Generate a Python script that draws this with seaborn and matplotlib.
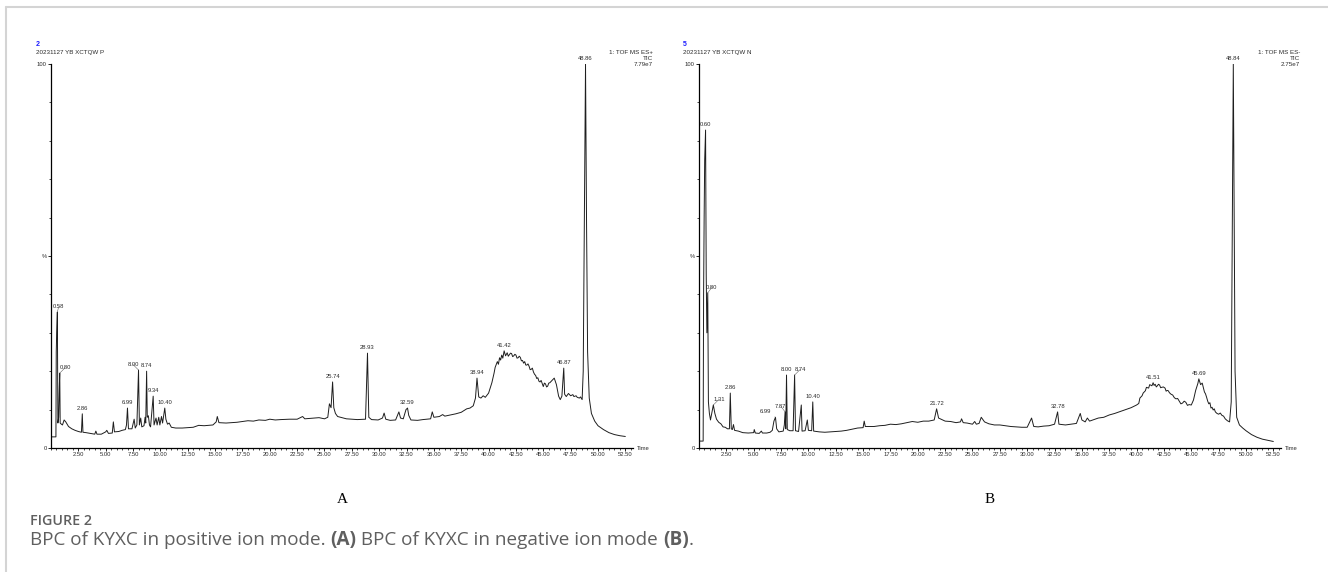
import matplotlib
matplotlib.use('Agg')
import pandas as pd
import seaborn as sns
import matplotlib.pyplot as plt
from matplotlib.ticker import MultipleLocator, FixedLocator
from matplotlib.lines import Line2D

sns.set_theme(style='white')
plt.rcParams['font.family'] = ['Liberation Sans', 'DejaVu Sans']

# Positive ion mode BPC (A), time in min, intensity in % of 7.79e7
time_pos = [0.0, 0.45, 0.48, 0.52, 0.58, 0.63, 0.70, 0.76, 0.80, 0.84, 0.95, 1.05, 1.2, 1.35, 1.6,
            1.9, 2.2, 2.5, 2.78, 2.86, 2.92, 3.2, 3.6, 4.0, 4.1, 4.2, 4.6, 5.0, 5.1, 5.25, 5.6,
            5.7, 5.8, 6.2, 6.5, 6.8, 6.9, 6.99, 7.08, 7.4, 7.6, 7.7, 7.85, 8.00, 8.08, 8.2, 8.3,
            8.5, 8.6, 8.66, 8.74, 8.8, 8.9, 9.0, 9.1, 9.34, 9.42, 9.6, 9.7, 9.85, 9.95, 10.1,
            10.2, 10.40, 10.5, 10.65, 10.8, 11.0, 11.4, 12.0, 12.5, 13.0, 13.5, 14.0, 14.8, 15.1,
            15.2, 15.35, 16.0, 17.0, 17.5, 18.0, 18.5, 19.0, 19.6, 20.0, 20.5, 21.0, 21.8, 22.5,
            23.0, 23.2, 24.0, 24.5, 25.0, 25.3, 25.45, 25.6, 25.74, 25.85, 26.0, 26.2, 27.0,
            28.0, 28.75, 28.93, 29.05, 29.3, 29.9, 30.3, 30.45, 30.6, 31.0, 31.5, 31.8, 31.95,
            32.2, 32.45, 32.59, 32.7, 32.9, 33.5, 34.0, 34.7, 34.85, 35.0, 35.5, 35.8, 36.0,
            36.5, 37.0, 37.5, 38.0, 38.3, 38.6, 38.8, 38.94, 39.1, 39.3, 39.5, 39.7, 40.0, 40.3,
            40.5, 40.6, 40.8, 40.9, 41.0, 41.1, 41.2, 41.3, 41.42, 41.55, 41.7, 41.8, 41.9, 42.0,
            42.1, 42.2, 42.3, 42.4, 42.5, 42.6, 42.7, 42.8, 42.9, 43.0, 43.1, 43.2, 43.3, 43.4,
            43.5, 43.6, 43.7, 43.8, 43.9, 44.0, 44.1, 44.2, 44.3, 44.4, 44.5, 44.6, 44.7, 44.8,
            44.9, 45.0, 45.1, 45.2, 45.3, 45.4, 45.5, 45.6, 45.8, 46.0, 46.2, 46.4, 46.55, 46.7,
            46.87, 46.95, 47.1, 47.3, 47.5, 47.7, 47.8, 48.0, 48.1, 48.3, 48.4, 48.55, 48.65,
            48.75, 48.86, 48.95, 49.05, 49.2, 49.4, 49.7, 50.0, 50.5, 51.0, 51.5, 52.0, 52.5]
int_pos = [2.9, 2.9, 25, 30, 35.4, 6.5, 8, 16, 19.5, 6.5, 6.2, 6.0, 7.3, 6.8, 5.6,
           5.0, 4.6, 4.3, 4.1, 8.9, 4.1, 4.0, 3.8, 3.6, 4.4, 3.6, 3.6, 4.2, 4.6, 3.8, 3.9,
           6.8, 4.2, 4.3, 4.6, 4.8, 6.0, 10.4, 5.0, 5.0, 7.5, 5.2, 6.0, 20.3, 6.0, 7.8, 5.5,
           5.8, 8.0, 6.5, 20.0, 8.0, 8.4, 6.0, 5.5, 13.5, 6.0, 7.8, 6.0, 8.0, 6.0, 8.2,
           6.5, 10.4, 7.5, 6.2, 6.5, 5.4, 5.2, 5.2, 5.3, 5.4, 5.9, 5.8, 6.0, 6.8,
           8.2, 6.6, 6.5, 6.7, 6.9, 7.1, 7.0, 7.3, 7.2, 7.5, 7.3, 7.4, 7.5, 7.5,
           8.2, 7.6, 7.8, 7.9, 7.6, 8.0, 11.5, 10.5, 17.2, 10.5, 9.0, 8.2, 7.6,
           7.4, 7.5, 24.7, 8.0, 7.4, 7.3, 7.8, 9.1, 7.5, 7.2, 7.3, 9.4, 7.8,
           7.6, 10.0, 10.4, 8.5, 7.3, 7.2, 7.4, 7.6, 9.4, 8.0, 8.2, 8.7, 8.3,
           8.6, 8.9, 9.3, 10.2, 10.4, 11.0, 13.0, 18.2, 13.3, 13.0, 13.6, 13.2, 14.3, 17.0,
           19.5, 21.0, 22.5, 21.8, 23.5, 22.9, 24.2, 23.4, 25.3, 24.0, 24.8, 23.9, 24.3, 24.7,
           24.6, 23.8, 24.0, 24.4, 24.2, 23.4, 23.5, 23.9, 23.6, 22.7, 22.8, 22.1, 22.5, 21.6,
           21.6, 21.9, 21.3, 20.4, 20.5, 20.8, 19.8, 19.2, 18.9, 18.1, 18.3, 17.4, 17.2, 17.6,
           16.8, 16.0, 16.9, 16.7, 15.9, 16.1, 16.9, 17.0, 17.6, 18.2, 16.5, 13.5, 12.6, 13.5,
           20.8, 14.0, 13.4, 14.2, 13.6, 13.9, 13.4, 13.6, 13.2, 13.0, 13.3, 12.6, 20.0,
           60.0, 100.0, 60.0, 25.0, 13.0, 9.0, 7.0, 5.8, 4.8, 4.0, 3.5, 3.2, 3.0]

# Negative ion mode BPC (B), intensity in % of 2.75e7
time_neg = [0.0, 0.38, 0.42, 0.47, 0.52, 0.60, 0.66, 0.72, 0.80, 0.86, 0.95, 1.05, 1.2, 1.31, 1.45,
            1.6, 1.8, 2.0, 2.2, 2.4, 2.6, 2.78, 2.86, 2.95, 3.05, 3.15, 3.25, 3.6, 4.0, 4.5, 5.0,
            5.05, 5.15, 5.5, 5.7, 5.8, 6.2, 6.5, 6.7, 6.85, 6.99, 7.1, 7.3, 7.7, 7.8, 7.87, 7.93,
            8.00, 8.07, 8.3, 8.6, 8.74, 8.82, 9.1, 9.35, 9.42, 9.7, 9.9, 10.0, 10.3, 10.40, 10.48,
            11.0, 11.5, 12.0, 12.5, 13.0, 13.5, 14.0, 14.5, 15.0, 15.1, 15.2, 16.0, 16.5, 17.0,
            17.5, 18.0, 18.5, 19.0, 19.5, 20.0, 20.5, 21.0, 21.5, 21.72, 21.9, 22.5, 23.0, 23.5,
            23.9, 24.0, 24.15, 24.5, 25.0, 25.2, 25.35, 25.6, 25.8, 26.1, 26.5, 27.0, 27.5, 28.0,
            28.5, 29.0, 29.5, 30.0, 30.4, 30.6, 31.0, 31.5, 32.0, 32.5, 32.78, 32.9, 33.5, 34.0,
            34.5, 34.85, 35.0, 35.3, 35.5, 35.7, 36.0, 36.5, 37.0, 37.5, 38.0, 38.5, 39.0, 39.5,
            40.0, 40.2, 40.3, 40.5, 40.6, 40.8, 40.9, 41.1, 41.2, 41.4, 41.51, 41.6, 41.7, 41.8,
            41.9, 42.0, 42.1, 42.2, 42.3, 42.45, 42.6, 42.7, 42.8, 42.9, 43.0, 43.15, 43.3, 43.45,
            43.6, 43.75, 43.9, 44.05, 44.2, 44.35, 44.5, 44.65, 44.8, 45.0, 45.2, 45.4, 45.6,
            45.69, 45.85, 46.0, 46.1, 46.2, 46.3, 46.4, 46.5, 46.6, 46.7, 46.8, 46.9, 47.0, 47.1,
            47.2, 47.35, 47.5, 47.65, 47.8, 47.95, 48.1, 48.3, 48.5, 48.65, 48.75, 48.84, 48.92,
            49.0, 49.15, 49.4, 49.7, 50.0, 50.5, 51.0, 51.5, 52.0, 52.5]
int_neg = [1.8, 1.8, 40, 60, 75, 82.8, 45, 30, 40.4, 12, 9, 7.3, 9.5, 11.2, 9,
           7.5, 6.7, 6.3, 5.5, 5.4, 5.0, 5.0, 14.3, 5.0, 4.8, 6.1, 4.6, 4.4, 4.0, 3.9, 4.0,
           4.8, 3.9, 3.8, 4.4, 3.9, 3.9, 4.1, 4.6, 7.0, 8.0, 5.0, 4.2, 4.4, 6.0, 9.4, 5.0,
           19.0, 4.8, 4.5, 4.5, 19.0, 4.5, 4.3, 11.2, 4.4, 4.5, 7.3, 4.6, 4.5, 12.0, 4.4,
           4.2, 4.1, 4.2, 4.3, 4.4, 4.6, 4.9, 5.2, 5.3, 7.0, 5.6, 5.6, 5.8, 5.9,
           6.2, 6.1, 6.3, 6.6, 6.9, 6.7, 7.0, 7.0, 7.3, 10.2, 7.8, 7.0, 6.9, 6.6,
           6.8, 7.6, 6.6, 6.5, 6.2, 6.9, 6.2, 6.4, 8.0, 6.8, 6.3, 6.0, 6.0, 5.8,
           5.6, 5.5, 5.4, 5.4, 7.8, 5.6, 5.5, 5.7, 5.8, 6.2, 9.4, 6.2, 6.0, 6.2,
           6.4, 9.0, 7.3, 6.8, 7.8, 7.0, 7.3, 7.8, 8.0, 8.6, 9.0, 9.5, 10.0, 10.5,
           11.2, 11.6, 13.0, 13.6, 14.3, 14.9, 15.8, 15.6, 16.5, 16.2, 17.0, 16.3, 16.6, 15.9,
           16.2, 16.6, 16.4, 15.7, 15.8, 15.9, 15.6, 14.8, 15.0, 14.9, 14.4, 14.0, 13.8, 13.1,
           12.8, 12.9, 12.2, 11.5, 11.7, 12.2, 11.9, 11.1, 11.3, 11.2, 12.5, 15.0, 16.8,
           18.0, 16.5, 16.9, 15.8, 14.6, 14.1, 13.2, 12.2, 11.5, 11.8, 10.4, 10.6, 9.9, 10.2,
           9.4, 9.0, 8.8, 9.1, 8.5, 8.3, 7.6, 7.1, 6.8, 12.0, 60.0, 100.0, 60.0,
           20.0, 8.0, 6.0, 5.2, 4.5, 3.5, 2.8, 2.3, 2.0, 1.7]

# labelled retention times
labels_pos = [0.58, 0.80, 2.86, 6.99, 8.00, 8.74, 9.34, 10.40, 25.74, 28.93, 32.59, 38.94,
              41.42, 46.87, 48.86]
labels_neg = [0.60, 0.80, 1.31, 2.86, 6.99, 7.87, 8.00, 8.74, 10.40, 21.72, 32.78, 41.51,
              45.69, 48.84]

# header texts
header_pos = ['2', '20231127 YB XCTQW P', ['1: TOF MS ES+', 'TIC', '7.79e7']]
header_neg = ['5', '20231127 YB XCTQW N', ['1: TOF MS ES-', 'TIC', '2.75e7']]

# label shifts in points (styling only)
shift_pos = {0.58: 1, 0.80: 4, 8.00: -4}
shift_neg = {0.80: 3, 1.31: 4, 6.99: -7, 7.87: -3, 8.74: 4}

W, H = 1328, 572
INK = '#2b2b2b'


def fx(px):
    return px / W


def fy(py):
    return 1 - py / H


def draw_panel(ax, times, values, labels, shifts):
    df = pd.DataFrame({'Time': times, 'Intensity': values})
    sns.lineplot(data=df, x='Time', y='Intensity', ax=ax, color='#1e1e1e',
                 linewidth=0.7, estimator=None, sort=False)

    ax.set_xlim(0, 53.2)
    ax.set_ylim(0, 100)
    ax.set_xlabel('')
    ax.set_ylabel('')
    ax.set_facecolor('none')

    for side in ['top', 'right']:
        ax.spines[side].set_visible(False)
    for side in ['left', 'bottom']:
        ax.spines[side].set_color('black')
        ax.spines[side].set_linewidth(0.9)

    ax.xaxis.set_major_locator(FixedLocator([2.5 * i for i in range(1, 22)]))
    ax.xaxis.set_minor_locator(MultipleLocator(0.5))
    ax.set_xticklabels(['%.2f' % (2.5 * i) for i in range(1, 22)])
    ax.yaxis.set_major_locator(FixedLocator([0, 50, 100]))
    ax.yaxis.set_minor_locator(MultipleLocator(10))
    ax.set_yticklabels(['0', '%', '100'])
    ax.tick_params(axis='both', which='major', direction='out', length=2.2, width=0.6,
                   color='black', labelsize=4.2, labelcolor=INK, pad=0.8)
    ax.tick_params(axis='both', which='minor', direction='out', length=1.6, width=0.5,
                   color='black')
    ax.tick_params(axis='x', which='both', bottom=True)
    ax.tick_params(axis='y', which='both', left=True)

    ax.text(1.006, 0, 'Time', transform=ax.transAxes, fontsize=4.2, color=INK,
            ha='left', va='center')

    # retention time labels over the peaks
    lookup = dict(zip(times, values))
    for rt in labels:
        h = lookup[rt]
        dx = shifts.get(rt, 0)
        props = None
        if dx != 0:
            props = dict(arrowstyle='-', lw=0.35, color='#555555', shrinkA=0, shrinkB=0)
        ax.annotate('%.2f' % rt, xy=(rt, h), xytext=(dx, 2.2), textcoords='offset points',
                    ha='center', va='bottom', fontsize=4.2, color=INK,
                    arrowprops=props, annotation_clip=False)


def draw_header(fig, left_px, right_px, header):
    fig.text(fx(left_px), fy(46), header[0], color='#1a1aff', fontsize=5, weight='bold')
    fig.text(fx(left_px), fy(54), header[1], color=INK, fontsize=4.5)
    for line, base in zip(header[2], [54, 60, 66]):
        fig.text(fx(right_px), fy(base), line, color=INK, fontsize=4.5, ha='right')


def draw_caption(fig):
    fig.text(fx(30), fy(525), 'FIGURE 2', color='#5f5f5f', fontsize=10.3,
             family=['Open Sans', 'DejaVu Sans'], weight='semibold')
    pieces = [('BPC of KYXC in positive ion mode. ', 'normal'), ('(A)', 'bold'),
              (' BPC of KYXC in negative ion mode ', 'normal'), ('(B)', 'bold'), ('.', 'normal')]
    renderer = fig.canvas.get_renderer()
    x = 30
    for txt, weight in pieces:
        t = fig.text(fx(x), fy(545), txt, color='#5f5f5f', fontsize=13.6,
                     family=['Open Sans', 'DejaVu Sans'], weight=weight)
        bb = t.get_window_extent(renderer=renderer)
        x = x + bb.width


def main():
    fig = plt.figure(figsize=(W / 100, H / 100), dpi=100)
    fig.patch.set_facecolor('white')

    ax_a = fig.add_axes([fx(51), fy(448), fx(582), 384 / H])
    ax_b = fig.add_axes([fx(699), fy(448), fx(582), 384 / H])

    draw_panel(ax_a, time_pos, int_pos, labels_pos, shift_pos)
    draw_panel(ax_b, time_neg, int_neg, labels_neg, shift_neg)

    draw_header(fig, 36, 653, header_pos)
    draw_header(fig, 683, 1300, header_neg)

    # panel letters, centred under each chart
    fig.text(fx(342), fy(503), 'A', fontsize=11, ha='center',
             family=['Liberation Serif', 'DejaVu Serif'], color='black')
    fig.text(fx(990), fy(503), 'B', fontsize=11, ha='center',
             family=['Liberation Serif', 'DejaVu Serif'], color='black')

    draw_caption(fig)

    # card border (left and top edges)
    fig.add_artist(Line2D([fx(6), fx(6)], [0, fy(7)], color='#d4d4d4', lw=1.5))
    fig.add_artist(Line2D([fx(6), 1], [fy(7), fy(7)], color='#d4d4d4', lw=1.5))

    fig.savefig('out.png', dpi=100, facecolor='white')
    plt.close(fig)


if __name__ == '__main__':
    main()
